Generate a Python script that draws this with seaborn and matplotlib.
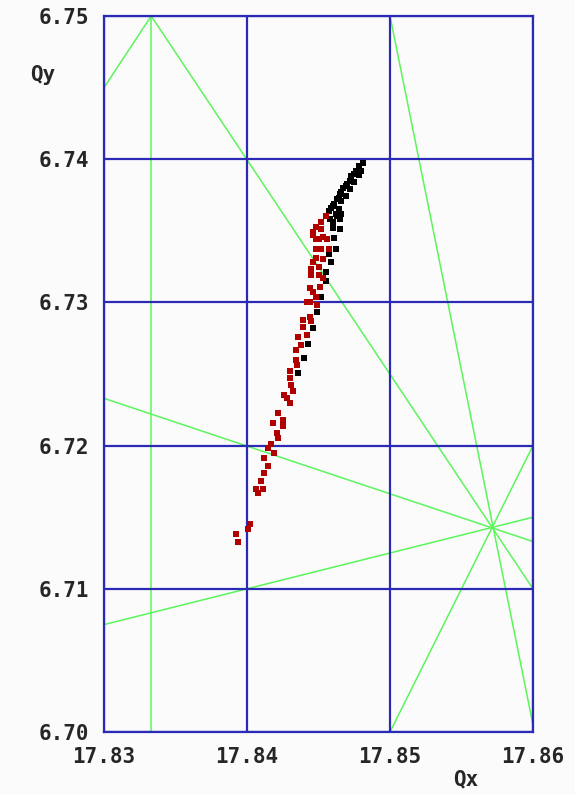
import numpy as np
import pandas as pd
import matplotlib
matplotlib.use("Agg")
import matplotlib.pyplot as plt
import seaborn as sns

# tune points, black set
black_qx = [17.8481, 17.8478, 17.8480, 17.8476, 17.8475, 17.8478, 17.8473, 17.8472,
            17.8475, 17.8470, 17.8469, 17.8472, 17.8467, 17.8466, 17.8465, 17.8469,
            17.8464, 17.8463, 17.8466, 17.8461, 17.8460, 17.8459, 17.8464, 17.8457,
            17.8466, 17.8462, 17.8463, 17.8458, 17.8465, 17.8460, 17.8460, 17.8465,
            17.8461, 17.8462, 17.8457, 17.8459, 17.8455, 17.8455, 17.8452, 17.8449,
            17.8446, 17.8443, 17.8440, 17.8436]
black_qy = [6.7397, 6.7395, 6.7392, 6.7392, 6.7390, 6.7389, 6.7388, 6.7385,
            6.7384, 6.7383, 6.7381, 6.7379, 6.7380, 6.7377, 6.7376, 6.7374,
            6.7373, 6.7372, 6.7371, 6.7369, 6.7367, 6.7366, 6.7365, 6.7364,
            6.7362, 6.7362, 6.7360, 6.7358, 6.7358, 6.7356, 6.7352, 6.7351,
            6.7345, 6.7337, 6.7334, 6.7328, 6.7321, 6.7315, 6.7304, 6.7293,
            6.7282, 6.7271, 6.7261, 6.7251]

# tune points, red set
red_qx = [17.8455, 17.8452, 17.8448, 17.8452, 17.8446, 17.8446, 17.8453, 17.8450,
          17.8448, 17.8456, 17.8448, 17.8452, 17.8457, 17.8448, 17.8453, 17.8446,
          17.8450, 17.8445, 17.8450, 17.8445, 17.8453, 17.8444, 17.8451, 17.8446,
          17.8448, 17.8442, 17.8444, 17.8449, 17.8439, 17.8444, 17.8445, 17.8439,
          17.8442, 17.8436, 17.8438, 17.8434, 17.8434, 17.8435, 17.8430, 17.8430,
          17.8431, 17.8432, 17.8426, 17.8428, 17.8430, 17.8422, 17.8425, 17.8418,
          17.8425, 17.8421, 17.8422, 17.8417, 17.8415, 17.8419, 17.8412, 17.8415,
          17.8412, 17.8410, 17.8411, 17.8406, 17.8408, 17.8402, 17.8401, 17.8392,
          17.8394]
red_qy = [6.7360, 6.7356, 6.7353, 6.7351, 6.7349, 6.7347, 6.7346, 6.7344,
          6.7344, 6.7344, 6.7337, 6.7337, 6.7337, 6.7331, 6.7330, 6.7328,
          6.7325, 6.7323, 6.7319, 6.7319, 6.7317, 6.7310, 6.7311, 6.7307,
          6.7304, 6.7300, 6.7300, 6.7298, 6.7288, 6.7290, 6.7287, 6.7283,
          6.7277, 6.7276, 6.7270, 6.7267, 6.7260, 6.7256, 6.7252, 6.7247,
          6.7242, 6.7238, 6.7235, 6.7233, 6.7230, 6.7223, 6.7218, 6.7216,
          6.7214, 6.7209, 6.7205, 6.7201, 6.7198, 6.7195, 6.7191, 6.7186,
          6.7181, 6.7175, 6.7170, 6.7170, 6.7167, 6.7145, 6.7142, 6.7138,
          6.7133]

# resonance line segments (start / end in tune space)
res_x0 = [17.8333, 17.8300, 17.8333, 17.8500, 17.8500, 17.8300, 17.8300]
res_y0 = [6.7000, 6.7450, 6.7500, 6.7500, 6.7000, 6.7233, 6.7075]
res_x1 = [17.8333, 17.8333, 17.8600, 17.8600, 17.8600, 17.8600, 17.8600]
res_y1 = [6.7500, 6.7500, 6.7100, 6.7005, 6.7200, 6.7133, 6.7150]

x_ticks = [17.83, 17.84, 17.85, 17.86]
y_ticks = [6.70, 6.71, 6.72, 6.73, 6.74, 6.75]

sns.set_style("white")
plt.rcParams['font.family'] = ['DejaVu Sans Mono', 'DejaVu Sans']

blue = '#2a2ab4'
green = '#5cf55c'
bg = '#fbfbfb'

fig = plt.figure(figsize=(5.75, 7.95), dpi=100, facecolor=bg)
ax = fig.add_axes([104 / 575, 1 - 732 / 795, 429 / 575, 716 / 795])
ax.set_facecolor(bg)

for x0, y0, x1, y1 in zip(res_x0, res_y0, res_x1, res_y1):
    ax.plot([x0, x1], [y0, y1], color=green, lw=1.1, zorder=1, solid_capstyle='butt')

df_black = pd.DataFrame({'Qx': black_qx, 'Qy': black_qy})
df_red = pd.DataFrame({'Qx': red_qx, 'Qy': red_qy})
sns.scatterplot(data=df_black, x='Qx', y='Qy', color='black', marker='s', s=16,
                linewidth=0, ax=ax, zorder=3)
sns.scatterplot(data=df_red, x='Qx', y='Qy', color='#b00000', marker='s', s=16,
                linewidth=0, ax=ax, zorder=3)

ax.set_xlim(17.83, 17.86)
ax.set_ylim(6.70, 6.75)
ax.set_xticks(x_ticks)
ax.set_yticks(y_ticks)
ax.set_xticklabels([f"{v:.2f}" for v in x_ticks])
ax.set_yticklabels([f"{v:.2f}" for v in y_ticks])
ax.set_axisbelow(False)
ax.grid(True, color=blue, lw=1.6)
for sp in ax.spines.values():
    sp.set_color(blue)
    sp.set_linewidth(1.6)
    sp.set_visible(True)
ax.tick_params(axis='x', length=0, pad=11, labelsize=15)
ax.tick_params(axis='y', length=0, pad=11, labelsize=15)
for lab in ax.get_xticklabels() + ax.get_yticklabels():
    lab.set_fontweight('bold')
ax.set_xlabel('')
ax.set_ylabel('')

ax.text(-0.143, 0.918, 'Qy', transform=ax.transAxes, ha='center', va='center',
        fontsize=15, fontweight='bold')
ax.text(0.843, -0.066, 'Qx', transform=ax.transAxes, ha='center', va='center',
        fontsize=15, fontweight='bold')

fig.savefig('out.png', dpi=100, facecolor=bg)
